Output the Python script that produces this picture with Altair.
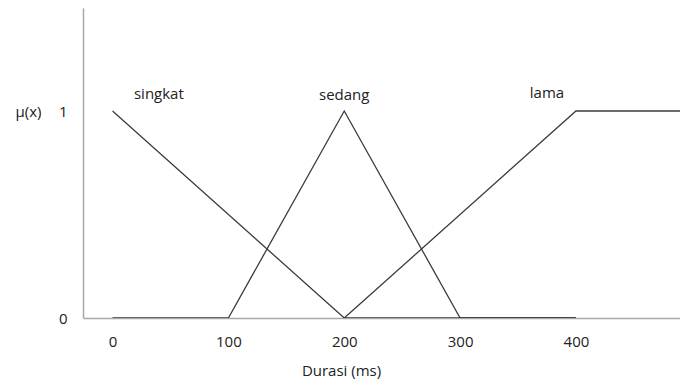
import altair as alt
import pandas as pd

# Membership function breakpoints (x in ms, mu value)
singkat_x = [0, 200, 400]
singkat_y = [1, 0, 0]
sedang_x = [0, 100, 200, 300, 400]
sedang_y = [0, 0, 1, 0, 0]
lama_x = [200, 400, 500]
lama_y = [0, 1, 1]

label_names = ["singkat", "sedang", "lama"]
label_x = [40, 200, 375]
label_y = [1.08, 1.075, 1.085]

x_ticks = [0, 100, 200, 300, 400]
y_ticks = [0, 1]

rows = []
for name, xs, ys in [("singkat", singkat_x, singkat_y),
                     ("sedang", sedang_x, sedang_y),
                     ("lama", lama_x, lama_y)]:
    for i, (xv, yv) in enumerate(zip(xs, ys)):
        rows.append({"set": name, "x": xv, "mu": yv, "order": i})
lines_df = pd.DataFrame(rows)
labels_df = pd.DataFrame({"name": label_names, "x": label_x, "mu": label_y})

FONT = "Open Sans"
TXT = "#222222"

x_scale = alt.Scale(domain=[-25.5, 489.8], nice=False, zero=False)
y_scale = alt.Scale(domain=[0, 1.4976], nice=False, zero=False)

lines = alt.Chart(lines_df).mark_line(color="#3c3c3c", strokeWidth=1.3, clip=True).encode(
    x=alt.X("x:Q", scale=x_scale, title="Durasi (ms)",
            axis=alt.Axis(values=x_ticks, ticks=False, grid=False, domainColor="#a8a8a8",
                          domainWidth=1.5, labelPadding=16, labelFont=FONT, labelFontSize=15,
                          labelColor=TXT, titleFont=FONT, titleFontSize=15, titleFontWeight="normal",
                          titleColor=TXT, titlePadding=14, titleX=258)),
    y=alt.Y("mu:Q", scale=y_scale, title="µ(x)",
            axis=alt.Axis(values=y_ticks, format="d", ticks=False, grid=False, domainColor="#a8a8a8",
                          domainWidth=1.5, labelPadding=16, labelFont=FONT, labelFontSize=15,
                          labelColor=TXT, titleFont=FONT, titleFontSize=15, titleFontWeight="normal",
                          titleColor=TXT, titleAngle=0, titleX=-55, titleY=103,
                          titleAlign="center", titleBaseline="middle")),
    detail="set:N",
    order="order:Q",
)

texts = alt.Chart(labels_df).mark_text(font=FONT, fontSize=15, color=TXT, baseline="middle").encode(
    x=alt.X("x:Q", scale=x_scale),
    y=alt.Y("mu:Q", scale=y_scale),
    text="name:N",
)

chart = alt.layer(lines, texts).properties(
    width=597, height=310,
    autosize=alt.AutoSizeParams(type="none"),
    padding={"left": 75, "top": 0, "right": 0, "bottom": 63},
).configure_view(stroke=None)

chart.save("out.html", embed_options={"renderer": "svg", "actions": False})
